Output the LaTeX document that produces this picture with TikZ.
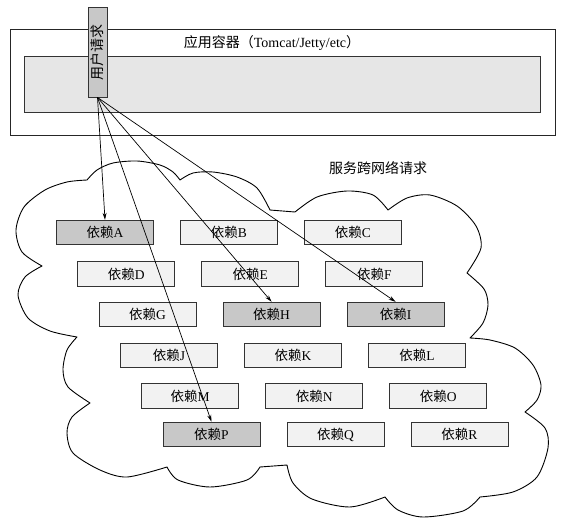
\documentclass[tikz,border=0pt]{standalone}
\usepackage{fontspec}
\setmainfont{Liberation Serif}
\newfontfamily\cjk{Noto Sans CJK SC}
\usetikzlibrary{arrows.meta}
\definecolor{lightbox}{HTML}{F2F2F2}
\definecolor{darkbox}{HTML}{C8C8C8}
\definecolor{innerfill}{HTML}{E6E6E6}
\definecolor{edgecol}{HTML}{333333}
\newcommand{\dep}[1]{{\cjk 依赖}#1}
\begin{document}
\begin{tikzpicture}[x=1pt,y=-1pt,
  depbox/.style={draw=edgecol, line width=0.9pt, fill=lightbox, minimum width=97pt, minimum height=24.5pt, inner sep=0pt, font=\fontsize{13.5}{15}\selectfont},
  hotbox/.style={depbox, fill=darkbox},
  arr/.style={line width=0.7pt, -{Stealth[length=7pt,width=4pt]}},
  cloudline/.style={line width=0.9pt, line join=round}]
\useasboundingbox (0,0) rectangle (566,525);
% container
\node[draw=black!85, line width=0.9pt, minimum width=545pt, minimum height=106pt, inner sep=0pt] (container) at (282.5,82) {};
\node[draw=edgecol, line width=0.9pt, fill=innerfill, minimum width=516pt, minimum height=56pt, inner sep=0pt] (inner) at (282,84) {};
\node[font=\fontsize{14}{16}\selectfont, inner sep=0pt] (title) at (272,43.5) {{\cjk 应用容器（}Tomcat/Jetty/etc{\cjk ）}};
\node[draw=edgecol, line width=0.9pt, fill=darkbox, minimum width=19pt, minimum height=90pt, inner sep=0pt] (user) at (97.5,52) {};
\node[rotate=90, font=\cjk\fontsize{14}{16}\selectfont, inner sep=0pt] (usertext) at (user.center) {用户请求};
% cloud
\draw[cloudline]
  plot[smooth] coordinates {(87,180) (97,170) (113,163) (137,161) (160,165) (173,172) (180,180)}
  -- plot[smooth] coordinates {(180,180) (193,173) (213,172) (237,177) (257,188) (270,210)}
  -- (295,212)
  -- plot[smooth] coordinates {(295,212) (317,197) (347,191) (373,195) (388,210)}
  -- plot[smooth] coordinates {(388,210) (407,198) (430,195) (457,206) (476,226) (481,248) (467,273)}
  -- plot[smooth] coordinates {(467,273) (484,289) (488,305) (483,323) (470,338)}
  -- plot[smooth] coordinates {(470,338) (490,340) (515,348) (533,365) (541,385) (537,400) (525,412)}
  -- plot[smooth] coordinates {(525,412) (545,428) (548,448) (537,477) (513,492) (480,497)}
  -- plot[smooth] coordinates {(480,497) (463,511) (423,517) (398,510) (385,497)}
  -- plot[smooth] coordinates {(385,497) (350,507) (312,499) (293,483) (287,465)}
  -- (260,467)
  -- plot[smooth] coordinates {(260,467) (247,480) (210,487) (178,480) (167,467)}
  -- plot[smooth] coordinates {(167,467) (127,477) (100,470) (73,453) (67,433) (72,417) (90,403)}
  -- plot[smooth] coordinates {(90,403) (68,387) (63,370) (67,350) (77,337)}
  -- plot[smooth] coordinates {(77,337) (50,331) (28,318) (18,295) (25,277) (42,266)}
  -- plot[smooth] coordinates {(42,266) (22,252) (16,230) (24,207) (45,190) (67,182) (87,180)};
\node[font=\cjk\fontsize{14}{16}\selectfont, inner sep=0pt] (cloudlabel) at (378,168) {服务跨网络请求};
% dependencies
\node[hotbox] (A) at (105,232.5) {\dep{A}};
\node[depbox] (B) at (229,232.5) {\dep{B}};
\node[depbox] (C) at (353,232.5) {\dep{C}};
\node[depbox] (D) at (126.3,274) {\dep{D}};
\node[depbox] (E) at (250.3,274) {\dep{E}};
\node[depbox] (F) at (374.3,274) {\dep{F}};
\node[depbox] (G) at (147.6,314.5) {\dep{G}};
\node[hotbox] (H) at (271.6,314.5) {\dep{H}};
\node[hotbox] (I) at (395.6,314.5) {\dep{I}};
\node[depbox] (J) at (168.9,355.5) {\dep{J}};
\node[depbox] (K) at (292.9,355.5) {\dep{K}};
\node[depbox] (L) at (416.9,355.5) {\dep{L}};
\node[depbox] (M) at (190.2,396) {\dep{M}};
\node[depbox] (N) at (314.2,396) {\dep{N}};
\node[depbox] (O) at (438.2,396) {\dep{O}};
\node[hotbox] (P) at (211.5,434.5) {\dep{P}};
\node[depbox] (Q) at (335.5,434.5) {\dep{Q}};
\node[depbox] (R) at (459.5,434.5) {\dep{R}};
% requests
\draw[arr] (user.south) -- (A.north);
\draw[arr] (user.south) -- (P.north);
\draw[arr] (user.south) -- (H.north);
\draw[arr] (user.south) -- (I.north);
\end{tikzpicture}
\end{document}
